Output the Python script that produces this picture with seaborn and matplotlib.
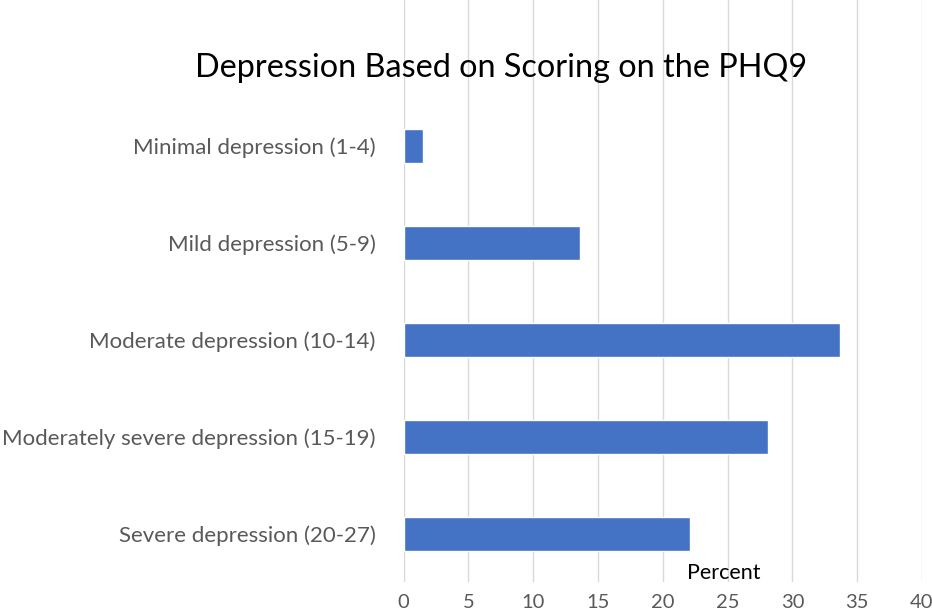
import matplotlib
matplotlib.use("Agg")
import matplotlib.pyplot as plt
import seaborn as sns
import pandas as pd

categories = [
    "Minimal depression (1-4)",
    "Mild depression (5-9)",
    "Moderate depression (10-14)",
    "Moderately severe depression (15-19)",
    "Severe depression (20-27)",
]
percents = [1.5, 13.6, 33.7, 28.1, 22.1]
x_ticks = [0, 5, 10, 15, 20, 25, 30, 35, 40]
title = "Depression Based on Scoring on the PHQ9"
x_label = "Percent"

sns.set_theme(style="white")
plt.rcParams["font.family"] = ["Lato", "DejaVu Sans"]

df = pd.DataFrame({"category": categories, "percent": percents})

fig = plt.figure(figsize=(9.32, 6.13), dpi=100)
ax = fig.add_axes([403.5 / 932, 1 - 582 / 613, (922 - 403.5) / 932, 582 / 613])

sns.barplot(data=df, x="percent", y="category", orient="h", color="#4472C4",
            saturation=1, width=0.35, ax=ax, zorder=3)

ax.set_xlim(0, 40)
ax.set_ylim(4.5, -1.506)
ax.set_xticks(x_ticks)
ax.set_xticklabels([str(t) for t in x_ticks])
ax.grid(axis="x", color="#d9d9d9", linewidth=1, zorder=0)
ax.grid(axis="y", visible=False)
for s in ax.spines.values():
    s.set_visible(False)
ax.tick_params(axis="x", length=0, pad=9, labelsize=14.5, labelcolor="#595959")
ax.tick_params(axis="y", length=0, pad=20, labelsize=16, labelcolor="#595959")
ax.set_xlabel("")
ax.set_ylabel("")

fig.text(0.538, 1 - 68 / 613, title, ha="center", va="center", fontsize=23.3, color="black")
fig.text(724 / 932, 1 - 573 / 613, x_label, ha="center", va="center", fontsize=15.5, color="black")

fig.savefig("out.png", dpi=100)
